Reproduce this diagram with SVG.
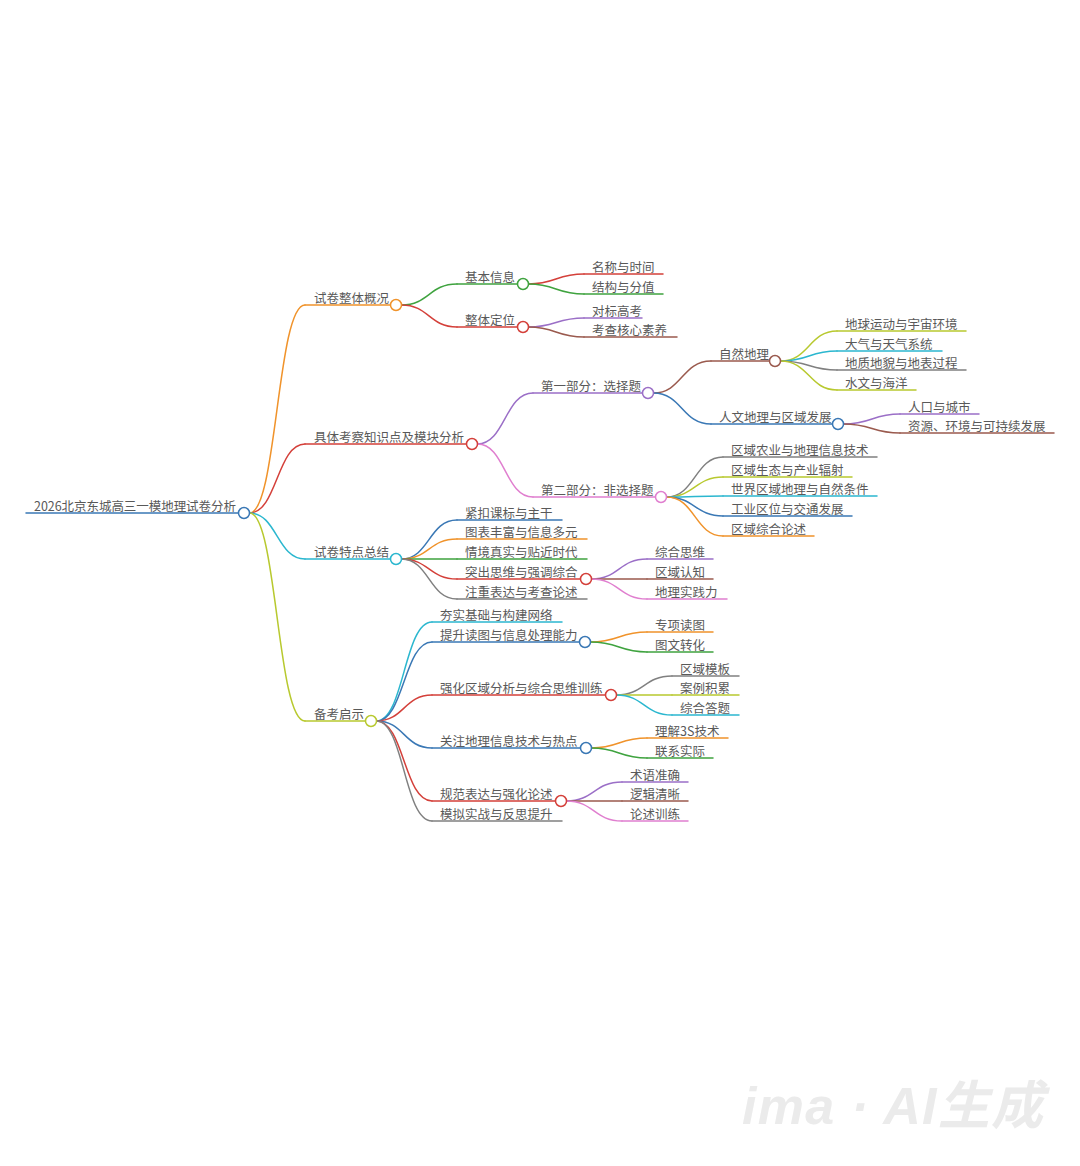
<svg xmlns="http://www.w3.org/2000/svg" width="1080" height="1166" viewBox="0 0 1080 1166">
<style>
.t{font-family:"Noto Sans CJK SC","Noto Sans",sans-serif;font-size:12.5px;fill:#595959}
.l{fill:none;stroke-width:1.5;stroke-linecap:round}
.k{fill:#fff;stroke-width:1.5}
.blue{stroke:#3a78b5}.orange{stroke:#f0932b}.red{stroke:#d4403a}.cyan{stroke:#2bb7cf}.yg{stroke:#b8c92f}.green{stroke:#3fa33f}.purple{stroke:#9b6fc7}.brown{stroke:#9a5a4e}.gray{stroke:#808080}.pink{stroke:#e07fcf}
.wm{font-family:"Liberation Sans","Noto Sans CJK SC",sans-serif;font-size:52px;font-weight:bold;font-style:italic;fill:#ebebeb}
</style>
<rect width="1080" height="1166" fill="#fff"/>
<g id="connectors">
<path class="l orange" d="M249.5 513C277 513 277 305 305 305"/>
<path class="l red" d="M249.5 513C277 513 277 444 305 444"/>
<path class="l cyan" d="M249.5 513C277 513 277 559 305 559"/>
<path class="l yg" d="M249.5 513C277 513 277 721 305 721"/>
<path class="l green" d="M401.5 305C429 305 429 284 457 284"/>
<path class="l red" d="M401.5 305C429 305 429 327 457 327"/>
<path class="l red" d="M528.5 284C556 284 556 274 584 274"/>
<path class="l green" d="M528.5 284C556 284 556 294 584 294"/>
<path class="l purple" d="M528.5 327C556 327 556 318 584 318"/>
<path class="l brown" d="M528.5 327C556 327 556 337 584 337"/>
<path class="l purple" d="M477.5 444C505 444 505 393 533 393"/>
<path class="l pink" d="M477.5 444C505 444 505 497 533 497"/>
<path class="l brown" d="M653.5 393C682 393 682 361 711 361"/>
<path class="l blue" d="M653.5 393C682 393 682 424 711 424"/>
<path class="l yg" d="M780.5 361C809 361 809 331 837 331"/>
<path class="l cyan" d="M780.5 361C809 361 809 351 837 351"/>
<path class="l gray" d="M780.5 361C809 361 809 370 837 370"/>
<path class="l yg" d="M780.5 361C809 361 809 390 837 390"/>
<path class="l purple" d="M843.5 424C872 424 872 414 900 414"/>
<path class="l brown" d="M843.5 424C872 424 872 433 900 433"/>
<path class="l gray" d="M666.5 497C695 497 695 457 723 457"/>
<path class="l yg" d="M666.5 497C695 497 695 477 723 477"/>
<path class="l cyan" d="M666.5 497C695 497 695 496 723 496"/>
<path class="l blue" d="M666.5 497C695 497 695 516 723 516"/>
<path class="l orange" d="M666.5 497C695 497 695 536 723 536"/>
<path class="l blue" d="M401.5 559C429 559 429 520 457 520"/>
<path class="l orange" d="M401.5 559C429 559 429 539 457 539"/>
<path class="l green" d="M401.5 559C429 559 429 559 457 559"/>
<path class="l red" d="M401.5 559C429 559 429 579 457 579"/>
<path class="l gray" d="M401.5 559C429 559 429 599 457 599"/>
<path class="l purple" d="M591.5 579C619 579 619 559 647 559"/>
<path class="l brown" d="M591.5 579C619 579 619 579 647 579"/>
<path class="l pink" d="M591.5 579C619 579 619 599 647 599"/>
<path class="l cyan" d="M376.5 721C404 721 404 622 432 622"/>
<path class="l blue" d="M376.5 721C404 721 404 642 432 642"/>
<path class="l red" d="M376.5 721C404 721 404 695 432 695"/>
<path class="l blue" d="M376.5 721C404 721 404 748 432 748"/>
<path class="l red" d="M376.5 721C404 721 404 801 432 801"/>
<path class="l gray" d="M376.5 721C404 721 404 821 432 821"/>
<path class="l orange" d="M590.5 642C619 642 619 632 647 632"/>
<path class="l green" d="M590.5 642C619 642 619 652 647 652"/>
<path class="l gray" d="M616.5 695C644 695 644 676 672 676"/>
<path class="l yg" d="M616.5 695C644 695 644 695 672 695"/>
<path class="l cyan" d="M616.5 695C644 695 644 715 672 715"/>
<path class="l orange" d="M591.5 748C619 748 619 738 647 738"/>
<path class="l green" d="M591.5 748C619 748 619 758 647 758"/>
<path class="l purple" d="M566.5 801C594 801 594 782 622 782"/>
<path class="l brown" d="M566.5 801C594 801 594 801 622 801"/>
<path class="l pink" d="M566.5 801C594 801 594 821 622 821"/>
</g>
<g id="root"><path class="l blue" d="M26 513H244"/><text class="t" x="34" y="511" textLength="202">2026北京东城高三一模地理试卷分析</text><circle class="k blue" cx="244" cy="513" r="5.5"/></g>
<g id="n1"><path class="l orange" d="M305 305H396"/><text class="t" x="314" y="303">试卷整体概况</text><circle class="k orange" cx="396" cy="305" r="5.5"/></g>
<g id="n1a"><path class="l green" d="M457 284H523"/><text class="t" x="465" y="282">基本信息</text><circle class="k green" cx="523" cy="284" r="5.5"/></g>
<g id="n1a1"><path class="l red" d="M584 274H663"/><text class="t" x="592" y="272">名称与时间</text></g>
<g id="n1a2"><path class="l green" d="M584 294H663"/><text class="t" x="592" y="292">结构与分值</text></g>
<g id="n1b"><path class="l red" d="M457 327H523"/><text class="t" x="465" y="325">整体定位</text><circle class="k red" cx="523" cy="327" r="5.5"/></g>
<g id="n1b1"><path class="l purple" d="M584 318H642"/><text class="t" x="592" y="316">对标高考</text></g>
<g id="n1b2"><path class="l brown" d="M584 337H677"/><text class="t" x="592" y="335">考查核心素养</text></g>
<g id="n2"><path class="l red" d="M305 444H472"/><text class="t" x="314" y="442">具体考察知识点及模块分析</text><circle class="k red" cx="472" cy="444" r="5.5"/></g>
<g id="n2a"><path class="l purple" d="M533 393H648"/><text class="t" x="541" y="391">第一部分：选择题</text><circle class="k purple" cx="648" cy="393" r="5.5"/></g>
<g id="n2a1"><path class="l brown" d="M711 361H775"/><text class="t" x="719" y="359">自然地理</text><circle class="k brown" cx="775" cy="361" r="5.5"/></g>
<g id="n2a1a"><path class="l yg" d="M837 331H966"/><text class="t" x="845" y="329">地球运动与宇宙环境</text></g>
<g id="n2a1b"><path class="l cyan" d="M837 351H942"/><text class="t" x="845" y="349">大气与天气系统</text></g>
<g id="n2a1c"><path class="l gray" d="M837 370H966"/><text class="t" x="845" y="368">地质地貌与地表过程</text></g>
<g id="n2a1d"><path class="l yg" d="M837 390H916"/><text class="t" x="845" y="388">水文与海洋</text></g>
<g id="n2a2"><path class="l blue" d="M711 424H838"/><text class="t" x="719" y="422">人文地理与区域发展</text><circle class="k blue" cx="838" cy="424" r="5.5"/></g>
<g id="n2a2a"><path class="l purple" d="M900 414H979"/><text class="t" x="908" y="412">人口与城市</text></g>
<g id="n2a2b"><path class="l brown" d="M900 433H1054"/><text class="t" x="908" y="431">资源、环境与可持续发展</text></g>
<g id="n2b"><path class="l pink" d="M533 497H661"/><text class="t" x="541" y="495">第二部分：非选择题</text><circle class="k pink" cx="661" cy="497" r="5.5"/></g>
<g id="n2b1"><path class="l gray" d="M723 457H877"/><text class="t" x="731" y="455">区域农业与地理信息技术</text></g>
<g id="n2b2"><path class="l yg" d="M723 477H852"/><text class="t" x="731" y="475">区域生态与产业辐射</text></g>
<g id="n2b3"><path class="l cyan" d="M723 496H877"/><text class="t" x="731" y="494">世界区域地理与自然条件</text></g>
<g id="n2b4"><path class="l blue" d="M723 516H852"/><text class="t" x="731" y="514">工业区位与交通发展</text></g>
<g id="n2b5"><path class="l orange" d="M723 536H814"/><text class="t" x="731" y="534">区域综合论述</text></g>
<g id="n3"><path class="l cyan" d="M305 559H396"/><text class="t" x="314" y="557">试卷特点总结</text><circle class="k cyan" cx="396" cy="559" r="5.5"/></g>
<g id="n3a"><path class="l blue" d="M457 520H562"/><text class="t" x="465" y="518">紧扣课标与主干</text></g>
<g id="n3b"><path class="l orange" d="M457 539H587"/><text class="t" x="465" y="537">图表丰富与信息多元</text></g>
<g id="n3c"><path class="l green" d="M457 559H587"/><text class="t" x="465" y="557">情境真实与贴近时代</text></g>
<g id="n3d"><path class="l red" d="M457 579H586"/><text class="t" x="465" y="577">突出思维与强调综合</text><circle class="k red" cx="586" cy="579" r="5.5"/></g>
<g id="n3d1"><path class="l purple" d="M647 559H713"/><text class="t" x="655" y="557">综合思维</text></g>
<g id="n3d2"><path class="l brown" d="M647 579H713"/><text class="t" x="655" y="577">区域认知</text></g>
<g id="n3d3"><path class="l pink" d="M647 599H727"/><text class="t" x="655" y="597">地理实践力</text></g>
<g id="n3e"><path class="l gray" d="M457 599H587"/><text class="t" x="465" y="597">注重表达与考查论述</text></g>
<g id="n4"><path class="l yg" d="M305 721H371"/><text class="t" x="314" y="719">备考启示</text><circle class="k yg" cx="371" cy="721" r="5.5"/></g>
<g id="n4a"><path class="l cyan" d="M432 622H562"/><text class="t" x="440" y="620">夯实基础与构建网络</text></g>
<g id="n4b"><path class="l blue" d="M432 642H585"/><text class="t" x="440" y="640">提升读图与信息处理能力</text><circle class="k blue" cx="585" cy="642" r="5.5"/></g>
<g id="n4b1"><path class="l orange" d="M647 632H713"/><text class="t" x="655" y="630">专项读图</text></g>
<g id="n4b2"><path class="l green" d="M647 652H713"/><text class="t" x="655" y="650">图文转化</text></g>
<g id="n4c"><path class="l red" d="M432 695H611"/><text class="t" x="440" y="693">强化区域分析与综合思维训练</text><circle class="k red" cx="611" cy="695" r="5.5"/></g>
<g id="n4c1"><path class="l gray" d="M672 676H739"/><text class="t" x="680" y="674">区域模板</text></g>
<g id="n4c2"><path class="l yg" d="M672 695H739"/><text class="t" x="680" y="693">案例积累</text></g>
<g id="n4c3"><path class="l cyan" d="M672 715H739"/><text class="t" x="680" y="713">综合答题</text></g>
<g id="n4d"><path class="l blue" d="M432 748H586"/><text class="t" x="440" y="746">关注地理信息技术与热点</text><circle class="k blue" cx="586" cy="748" r="5.5"/></g>
<g id="n4d1"><path class="l orange" d="M647 738H728"/><text class="t" x="655" y="736">理解3S技术</text></g>
<g id="n4d2"><path class="l green" d="M647 758H713"/><text class="t" x="655" y="756">联系实际</text></g>
<g id="n4e"><path class="l red" d="M432 801H561"/><text class="t" x="440" y="799">规范表达与强化论述</text><circle class="k red" cx="561" cy="801" r="5.5"/></g>
<g id="n4e1"><path class="l purple" d="M622 782H688"/><text class="t" x="630" y="780">术语准确</text></g>
<g id="n4e2"><path class="l brown" d="M622 801H688"/><text class="t" x="630" y="799">逻辑清晰</text></g>
<g id="n4e3"><path class="l pink" d="M622 821H688"/><text class="t" x="630" y="819">论述训练</text></g>
<g id="n4f"><path class="l gray" d="M432 821H562"/><text class="t" x="440" y="819">模拟实战与反思提升</text></g>
<text class="wm" x="742" y="1124" textLength="301">ima · AI生成</text>
</svg>
